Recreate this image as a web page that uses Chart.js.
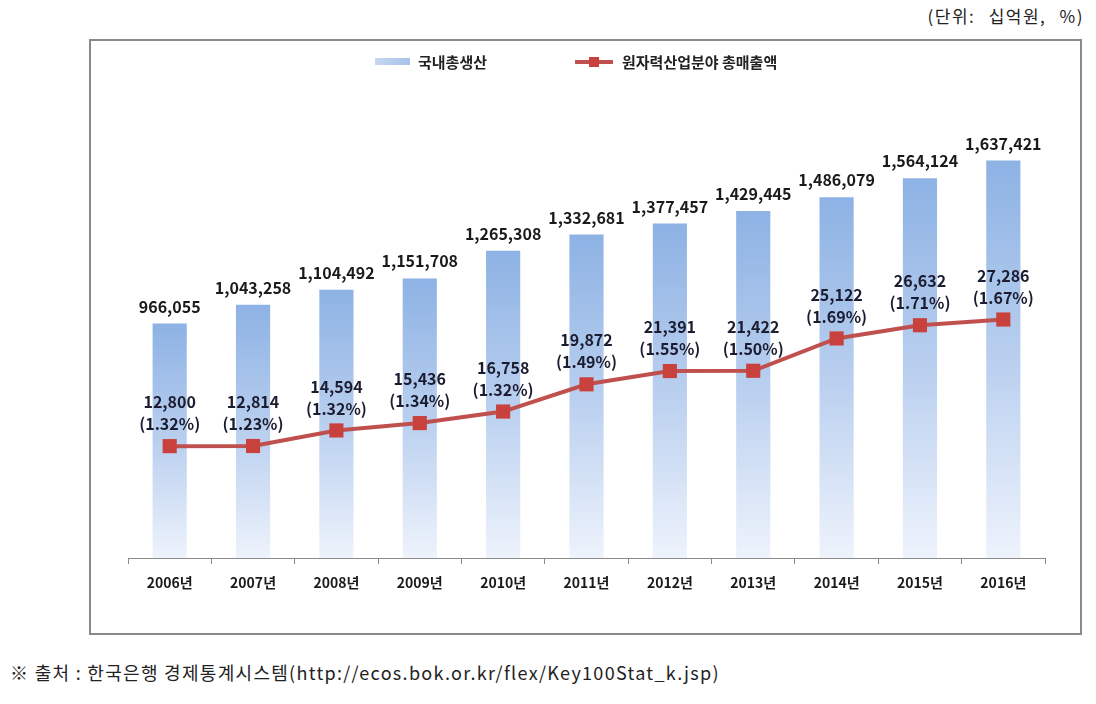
<!DOCTYPE html>
<html>
<head>
<meta charset="utf-8">
<script src="https://cdn.jsdelivr.net/npm/chart.js@4/dist/chart.umd.min.js"></script>
<style>
  body { margin: 0; background: #fff; font-family: "Noto Sans CJK KR", sans-serif; }
  #unit { position: absolute; right: 12px; top: 3px; font-size: 17px; color: #222; letter-spacing: 1.5px; word-spacing: 8px; }
  #box { position: absolute; left: 89px; top: 39px; width: 989px; height: 592px; border: 2px solid #8a8a8a; }
  #box canvas { position: absolute; left: 0; top: 0; }
  #source { position: absolute; left: 10px; top: 659px; font-size: 18px; color: #222; letter-spacing: 1.3px; }
</style>
</head>
<body>
<div id="unit">(단위: 십억원, %)</div>
<div id="box"><canvas id="gdpChart" width="989" height="592"></canvas></div>
<div id="source">※ 출처 : 한국은행 경제통계시스템(http://ecos.bok.or.kr/flex/Key100Stat_k.jsp)</div>
<script>
const years = ['2006년', '2007년', '2008년', '2009년', '2010년', '2011년', '2012년', '2013년', '2014년', '2015년', '2016년'];
const gdp = [966055, 1043258, 1104492, 1151708, 1265308, 1332681, 1377457, 1429445, 1486079, 1564124, 1637421];
const nuclearSales = [12800, 12814, 14594, 15436, 16758, 19872, 21391, 21422, 25122, 26632, 27286];
const shares = [1.32, 1.23, 1.32, 1.34, 1.32, 1.49, 1.55, 1.50, 1.69, 1.71, 1.67];

const legendFont = 'bold 15px "Noto Sans CJK KR", sans-serif';
const labelFont = 'bold 16px "Noto Sans CJK KR", sans-serif';

function barGradient(context) {
    const chart = context.chart;
    if (!chart.chartArea || context.dataIndex === undefined) {
        return '#8eb4e3';
    }
    const yScale = chart.scales.y;
    const top = yScale.getPixelForValue(gdp[context.dataIndex]);
    const bottom = yScale.getPixelForValue(0);
    const grad = chart.ctx.createLinearGradient(0, top, 0, bottom);
    grad.addColorStop(0, '#8db2e4');
    grad.addColorStop(0.5, '#b9cfef');
    grad.addColorStop(1, '#eef3fc');
    return grad;
}

// legend drawn by hand, like the original
const legendPlugin = {
    id: 'legendPlugin',
    afterDraw(chart) {
        const ctx = chart.ctx;
        ctx.save();
        const grad = ctx.createLinearGradient(284, 0, 319, 0);
        grad.addColorStop(0, '#c7d8f1');
        grad.addColorStop(1, '#a7c1e9');
        ctx.fillStyle = grad;
        ctx.fillRect(284, 17, 35, 7);

        ctx.strokeStyle = '#c0504d';
        ctx.lineWidth = 4;
        ctx.beginPath();
        ctx.moveTo(484, 21);
        ctx.lineTo(522, 21);
        ctx.stroke();
        ctx.fillStyle = '#c8413d';
        ctx.fillRect(498, 16, 10, 10);

        ctx.fillStyle = '#222';
        ctx.font = legendFont;
        ctx.textBaseline = 'middle';
        ctx.textAlign = 'left';
        ctx.fillText('국내총생산', 327, 21);
        ctx.fillText('원자력산업분야 총매출액', 531, 21);
        ctx.restore();
    }
};

const valueLabels = {
    id: 'valueLabels',
    afterDatasetsDraw(chart) {
        const ctx = chart.ctx;
        ctx.save();
        ctx.font = labelFont;
        ctx.textAlign = 'center';
        ctx.textBaseline = 'middle';
        ctx.fillStyle = '#1a1a1a';

        chart.getDatasetMeta(0).data.forEach((bar, i) => {
            ctx.fillText(gdp[i].toLocaleString('en-US'), bar.x, bar.y - 17);
        });

        ctx.fillStyle = '#1c1c30';
        chart.getDatasetMeta(1).data.forEach((pt, i) => {
            ctx.fillText(nuclearSales[i].toLocaleString('en-US'), pt.x, pt.y - 44);
            ctx.fillText('(' + shares[i].toFixed(2) + '%)', pt.x, pt.y - 22);
        });
        ctx.restore();
    }
};

const ctx = document.getElementById('gdpChart').getContext('2d');
new Chart(ctx, {
    data: {
        labels: years,
        datasets: [{
            type: 'bar',
            label: '국내총생산',
            data: gdp,
            yAxisID: 'y',
            backgroundColor: barGradient,
            categoryPercentage: 1,
            barPercentage: 0.41,
            order: 1
        }, {
            type: 'line',
            label: '원자력산업분야 총매출액',
            data: nuclearSales,
            yAxisID: 'y1',
            borderColor: '#c0504d',
            borderWidth: 4,
            pointStyle: 'rect',
            pointRadius: 10,
            pointBackgroundColor: '#c8413d',
            pointBorderColor: '#c8413d',
            pointBorderWidth: 0,
            tension: 0,
            order: 0
        }]
    },
    options: {
        responsive: false,
        animation: false,
        layout: { padding: { left: 37, right: 35, top: 80, bottom: 0 } },
        plugins: {
            legend: { display: false },
            tooltip: { enabled: false }
        },
        scales: {
            x: {
                offset: true,
                grid: {
                    offset: true,
                    drawOnChartArea: false,
                    drawTicks: true,
                    tickLength: 6,
                    color: '#8a8a8a'
                },
                border: { display: true, color: '#8a8a8a', width: 1 },
                ticks: {
                    color: '#1a1a1a',
                    padding: 10,
                    font: { family: '"Noto Sans CJK KR", sans-serif', size: 14, weight: 'bold' }
                },
                afterFit(axis) { axis.height = 75; }
            },
            y: { display: false, min: 0, max: 1800000 },
            y1: { display: false, min: 0, max: 50000 }
        }
    },
    plugins: [legendPlugin, valueLabels]
});
</script>
</body>
</html>
